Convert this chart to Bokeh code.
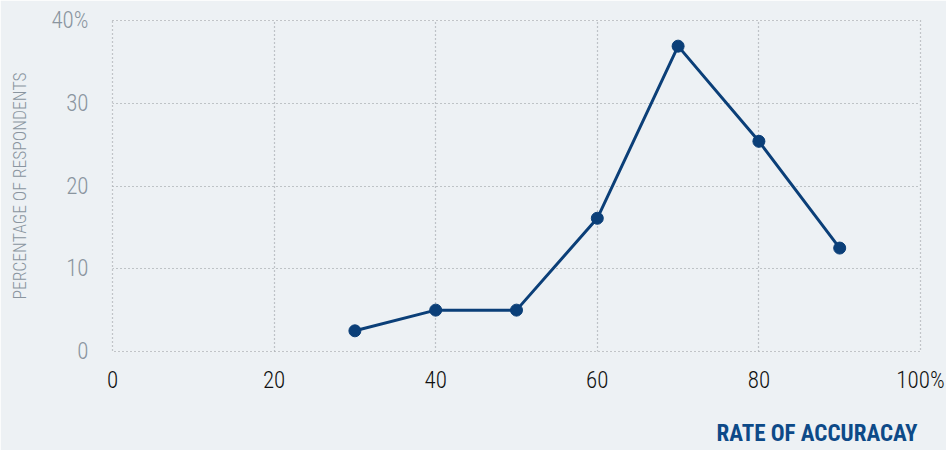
from bokeh.plotting import figure
from bokeh.models import FixedTicker, LinearAxis
from bokeh.embed import file_html
from bokeh.resources import INLINE

accuracy = [30, 40, 50, 60, 70, 80, 90]
respondents = [2.5, 5.0, 5.0, 16.1, 36.9, 25.4, 12.5]
x_ticks = [0, 20, 40, 60, 80, 100]
x_tick_labels = ["0", "20", "40", "60", "80", "100%"]
y_ticks = [0, 10, 20, 30, 40]
y_tick_labels = ["0", "10", "20", "30", "40%"]
x_title = "RATE OF ACCURACAY"
y_title = "PERCENTAGE OF RESPONDENTS"

BG = "#edf1f4"
LINE = "#0b3f78"
FONT = "'Roboto Condensed Light', 'Roboto Condensed', 'DejaVu Sans Condensed', Roboto, sans-serif"
FONT_BOLD = "'Roboto Condensed', 'DejaVu Sans Condensed', Roboto, sans-serif"

p = figure(width=946, height=450, x_range=(0, 100), y_range=(0, 40),
           output_backend="svg", toolbar_location=None,
           background_fill_color=BG, border_fill_color=BG,
           min_border_left=112, min_border_right=26, min_border_top=20, min_border_bottom=99)
p.outline_line_color = "#8f9499"
p.outline_line_dash = "1 3"
p.outline_line_width = 1.2

p.xaxis.ticker = FixedTicker(ticks=x_ticks)
p.yaxis.ticker = FixedTicker(ticks=y_ticks)
p.xaxis.major_label_overrides = {t: s for t, s in zip(x_ticks, x_tick_labels)}
p.yaxis.major_label_overrides = {t: s for t, s in zip(y_ticks, y_tick_labels)}

for ax in (p.xaxis[0], p.yaxis[0]):
    ax.axis_line_color = None
    ax.major_tick_line_color = None
    ax.minor_tick_line_color = None
    ax.major_tick_out = 0
    ax.major_tick_in = 0
    ax.minor_tick_out = 0
    ax.minor_tick_in = 0
    ax.major_label_text_font = FONT
    ax.major_label_text_font_size = "23px"

p.yaxis.major_label_text_color = "#8a959f"
p.yaxis.major_label_standoff = 24
p.yaxis.axis_label = y_title
p.yaxis.axis_label_text_font = FONT
p.yaxis.axis_label_text_font_style = "normal"
p.yaxis.axis_label_text_font_size = "17.6px"
p.yaxis.axis_label_text_color = "#8a959f"
p.yaxis.axis_label_standoff = 18

p.xaxis.major_label_text_color = "#111111"
p.xaxis.major_label_standoff = 15

for g in (p.xgrid[0], p.ygrid[0]):
    g.grid_line_color = "#8f9499"
    g.grid_line_dash = "1 3"
    g.grid_line_width = 1.2

p.line(accuracy, respondents, line_color=LINE, line_width=3)
p.scatter(accuracy, respondents, size=12, fill_color=LINE, line_color=LINE)

# x-axis title, right-aligned under the frame, drawn as a second axis
title_pos = 87.2
title_axis = LinearAxis(ticker=FixedTicker(ticks=[title_pos]),
                        major_label_overrides={title_pos: x_title})
title_axis.axis_line_color = None
title_axis.major_tick_line_color = None
title_axis.minor_tick_line_color = None
title_axis.major_tick_out = 0
title_axis.major_tick_in = 0
title_axis.minor_tick_out = 0
title_axis.minor_tick_in = 0
title_axis.major_label_standoff = 23
title_axis.major_label_text_font = FONT_BOLD
title_axis.major_label_text_font_style = "bold"
title_axis.major_label_text_font_size = "23px"
title_axis.major_label_text_color = "#0d4a88"
p.add_layout(title_axis, "below")

open("out.html", "w").write(file_html(p, INLINE))
